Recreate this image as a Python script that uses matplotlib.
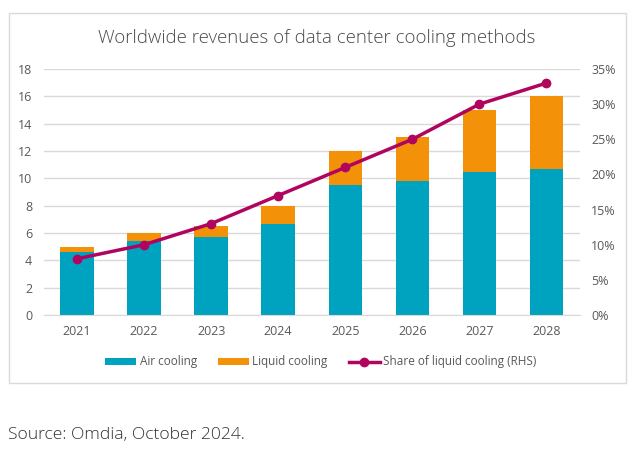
import matplotlib
matplotlib.use("Agg")
import matplotlib.pyplot as plt
from matplotlib.patches import Rectangle
from matplotlib.ticker import FuncFormatter
import numpy as np

years = ["2021", "2022", "2023", "2024", "2025", "2026", "2027", "2028"]
air_cooling = [4.6, 5.4, 5.7, 6.65, 9.5, 9.8, 10.5, 10.7]
total_revenue = [5.0, 6.0, 6.5, 8.0, 12.0, 13.0, 15.0, 16.0]
liquid_cooling = [t - a for t, a in zip(total_revenue, air_cooling)]
liquid_share = [8, 10, 13, 17, 21, 25, 30, 33]

left_ticks = [0, 2, 4, 6, 8, 10, 12, 14, 16, 18]
right_ticks = [0, 5, 10, 15, 20, 25, 30, 35]

AIR = "#00A3BF"
LIQ = "#F39208"
LINE = "#B0045F"
GRID = "#D9D9D9"
TXT = "#595959"

plt.rcParams['font.family'] = ['Open Sans', 'DejaVu Sans']

fig = plt.figure(figsize=(6.31, 4.63), dpi=100)
W, H = 631, 463

# outer frame
fig.patches.append(Rectangle((9 / W, 1 - 383 / H), (626 - 9) / W, (383 - 13) / H,
                             transform=fig.transFigure, fill=False,
                             edgecolor="#D9D9D9", linewidth=1.0))

ax = fig.add_axes([43.5 / W, 1 - 315 / H, 536.5 / W, 246 / H])
x = np.arange(len(years))
ax.bar(x, air_cooling, width=0.5, color=AIR, label="Air cooling", zorder=2)
ax.bar(x, liquid_cooling, width=0.5, bottom=air_cooling, color=LIQ,
       label="Liquid cooling", zorder=2)
ax.set_xlim(-0.5, len(years) - 0.5)
ax.set_ylim(0, 18)
ax.set_yticks(left_ticks)
ax.set_xticks(x)
ax.set_xticklabels(years)
ax.grid(axis="y", color=GRID, linewidth=1.0, zorder=0)
ax.set_axisbelow(True)
for s in ax.spines.values():
    s.set_visible(False)
ax.spines["bottom"].set_visible(True)
ax.spines["bottom"].set_color(GRID)
ax.tick_params(axis="both", length=0, labelsize=9, colors=TXT, pad=7)
ax.tick_params(axis="y", pad=8)

ax2 = ax.twinx()
ax2.plot(x, liquid_share, color=LINE, linewidth=2.5, marker="o", markersize=6,
         label="Share of liquid cooling (RHS)", zorder=3)
ax2.set_ylim(0, 35)
ax2.set_yticks(right_ticks)
ax2.yaxis.set_major_formatter(FuncFormatter(lambda v, p: f"{int(v)}%"))
for s in ax2.spines.values():
    s.set_visible(False)
ax2.tick_params(axis="y", length=0, labelsize=9, colors=TXT, pad=8)

h1, l1 = ax.get_legend_handles_labels()
h2, l2 = ax2.get_legend_handles_labels()
leg = fig.legend(h1 + h2, l1 + l2, loc="center", bbox_to_anchor=(321 / W, 1 - 362 / H),
                 ncol=3, frameon=False, fontsize=8.5, handlelength=2.6,
                 handleheight=0.5, handletextpad=0.3, columnspacing=1.8,
                 labelcolor=TXT)

fig.text(317 / W, 1 - 38 / H, "Worldwide revenues of data center cooling methods",
         ha="center", va="center", fontsize=13.4, fontweight="light", color="#4a4a4a")
fig.text(8 / W, 1 - 435 / H, "Source: Omdia, October 2024.", ha="left", va="center",
         fontsize=12.6, fontweight="light", color="#333333")

fig.savefig("out.png", dpi=100)
